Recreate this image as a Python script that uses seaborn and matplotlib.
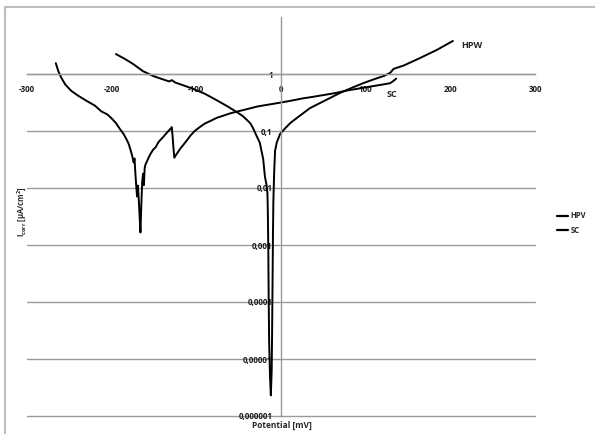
import matplotlib
matplotlib.use("Agg")
import matplotlib.pyplot as plt
import matplotlib.lines as mlines
import numpy as np
import pandas as pd
import seaborn as sns

# Polarisation curves: potential [mV] vs corrosion current density [µA/cm²]
sc_mv = [-266, -263, -260, -255, -248, -240, -230, -220, -212, -205, -200, -195,
         -190, -186, -183, -180, -178, -176, -174, -173, -172, -171, -170, -169,
         -168, -167, -166, -165, -164, -163, -162, -161, -160, -158, -156, -154,
         -151, -148, -145, -142, -139, -136, -133, -131, -129, -128, -127, -126,
         -124, -122, -119, -115, -111, -107, -102, -96, -90, -83, -76, -68, -60,
         -52, -44, -36, -28, -20, -12, -4, 4, 15, 25, 38, 50, 62, 78, 90, 105,
         118, 129, 133, 136]
sc_i = [1.55, 1.12, 0.89, 0.66, 0.51, 0.42, 0.34, 0.28, 0.22, 0.195, 0.166, 0.138,
        0.107, 0.089, 0.074, 0.060, 0.048, 0.038, 0.028, 0.033, 0.018, 0.011,
        0.0071, 0.011, 0.0063, 0.0032, 0.00166, 0.005, 0.0126, 0.0178, 0.0112,
        0.0224, 0.026, 0.030, 0.035, 0.040, 0.047, 0.052, 0.063, 0.071, 0.079,
        0.089, 0.100, 0.107, 0.117, 0.079, 0.050, 0.034, 0.038, 0.042, 0.049,
        0.058, 0.069, 0.083, 0.100, 0.117, 0.135, 0.151, 0.170, 0.186, 0.204,
        0.219, 0.234, 0.251, 0.269, 0.282, 0.295, 0.309, 0.324, 0.347, 0.372,
        0.398, 0.427, 0.457, 0.513, 0.55, 0.60, 0.646, 0.69, 0.76, 0.83]

hpw_mv = [-195, -185, -175, -163, -150, -140, -132, -129, -125, -115, -104, -90,
          -76, -64, -52, -45, -40, -36, -33, -29, -25, -21, -19, -17, -16, -15.5,
          -15, -14.5, -14, -13, -12, -11, -10.5, -10, -9.5, -9, -8, -7, -5, -1, 5,
          11, 18, 26, 34, 46, 58, 70, 84, 97, 110, 122, 129, 133, 145, 164, 185,
          203]
hpw_i = [2.24, 1.86, 1.51, 1.12, 0.91, 0.81, 0.74, 0.78, 0.71, 0.63, 0.55, 0.45,
         0.347, 0.275, 0.214, 0.182, 0.155, 0.135, 0.112, 0.083, 0.062, 0.032,
         0.0158, 0.0112, 0.0079, 0.0035, 0.0008, 0.0001, 0.00002, 0.000005,
         0.0000023, 0.0000063, 0.00003, 0.0002, 0.0015, 0.006, 0.02, 0.045,
         0.063, 0.089, 0.112, 0.138, 0.166, 0.204, 0.251, 0.309, 0.38, 0.468,
         0.575, 0.69, 0.81, 0.93, 1.05, 1.23, 1.41, 1.9, 2.69, 3.8]

series_names = ["HPV", "SC"]
x_ticks = [-300, -200, -100, 0, 100, 200, 300]
y_ticks = [1e-6, 1e-5, 1e-4, 1e-3, 1e-2, 1e-1, 1]
y_tick_labels = ["0,000001", "0,00001", "0,0001", "0,001", "0,01", "0,1", "1"]

df = pd.concat([
    pd.DataFrame({"Potential": hpw_mv, "I": hpw_i, "series": series_names[0]}),
    pd.DataFrame({"Potential": sc_mv, "I": sc_i, "series": series_names[1]}),
], ignore_index=True)

sns.set_theme(style="white")
plt.rcParams["font.family"] = ["Open Sans", "DejaVu Sans"]

fig = plt.figure(figsize=(5.95, 4.34), dpi=100)
ax = fig.add_axes([27 / 595, 18 / 434, 508 / 595, 399 / 434])

sns.lineplot(data=df, x="Potential", y="I", hue="series", sort=False,
             estimator=None, palette=["black", "black"], linewidth=1.4,
             legend=False, ax=ax)

ax.set_yscale("log")
ax.set_xlim(-300, 300)
ax.set_ylim(1e-6, 10)

grid_c = "#9a9a9a"
for v in y_ticks:
    ax.axhline(v, color=grid_c, lw=1.0, zorder=0, clip_on=False)

ax.spines["top"].set_visible(False)
ax.spines["right"].set_visible(False)
ax.spines["bottom"].set_position(("data", 1))
ax.spines["left"].set_position(("data", 0))
for s in ("bottom", "left"):
    ax.spines[s].set_color(grid_c)
    ax.spines[s].set_linewidth(1.0)

tick_font = {"fontsize": 5.8, "fontweight": "bold", "color": "#1a1a1a"}
ax.set_xticks(x_ticks)
ax.set_xticklabels([str(t) for t in x_ticks], **tick_font)
ax.set_yticks(y_ticks)
ax.set_yticklabels(y_tick_labels, **tick_font)
ax.yaxis.set_minor_locator(matplotlib.ticker.NullLocator())
ax.tick_params(axis="x", direction="in", length=3, color=grid_c, pad=8)
ax.tick_params(axis="y", direction="out", length=3, color=grid_c, pad=3)
ax.set_xlabel("")
ax.set_ylabel("")

# curve labels
ax.text(225, 3.2, "HPW", fontsize=6.5, fontweight="bold", ha="center", va="center")
ax.text(131, 0.43, "SC", fontsize=6.5, fontweight="bold", ha="center", va="center")

# axis titles
fig.text(282 / 595, 1 - 425 / 434, "Potential [mV]", fontsize=6,
         fontweight="bold", ha="center", va="center")
fig.text(22 / 595, 1 - 212 / 434, "I$_\\mathregular{corr}$ [µA/cm$^\\mathregular{2}$]",
         fontsize=5.5, fontweight="bold", rotation=90, ha="center", va="center")

# legend
handles = [mlines.Line2D([], [], color="black", lw=1.6) for _ in series_names]
fig.legend(handles, series_names, loc="center left",
           bbox_to_anchor=(550 / 595, 1 - 223 / 434), frameon=False,
           handlelength=1.5, handletextpad=0.3, labelspacing=0.7,
           prop={"weight": "bold", "size": 5.5})

# chart area border
fig.add_artist(mlines.Line2D([5 / 595, 5 / 595], [0, 1 - 7 / 434],
                             transform=fig.transFigure, color="#bdbdbd", lw=1.5))
fig.add_artist(mlines.Line2D([5 / 595, 1], [1 - 7 / 434, 1 - 7 / 434],
                             transform=fig.transFigure, color="#bdbdbd", lw=1.5))

fig.savefig("out.png", dpi=100)
